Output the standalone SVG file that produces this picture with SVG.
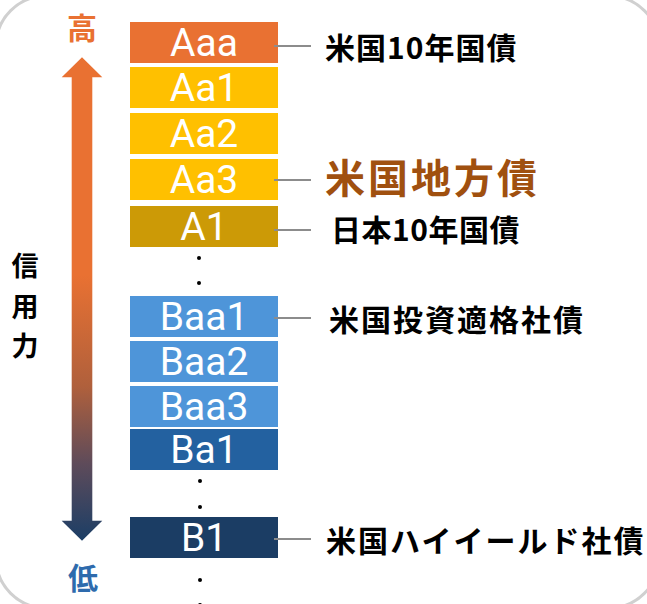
<svg xmlns="http://www.w3.org/2000/svg" width="647" height="604" viewBox="0 0 647 604">
<defs>
<linearGradient id="g" gradientUnits="userSpaceOnUse" x1="0" y1="57" x2="0" y2="541">
<stop offset="0" stop-color="#E97132"/>
<stop offset="0.45" stop-color="#E97132"/>
<stop offset="0.68" stop-color="#B0603C"/>
<stop offset="0.84" stop-color="#5E4B5A"/>
<stop offset="1" stop-color="#1B3E66"/>
</linearGradient>
<style>
.bx text{font-family:Roboto,"Liberation Sans",sans-serif;font-size:39px;fill:#fff;text-anchor:middle}
.lb{font-family:"Noto Sans CJK JP","Noto Sans",sans-serif;font-weight:bold;font-size:30px;fill:#000;letter-spacing:2px}
.cn line{stroke:#8C8C8C;stroke-width:2}
.dot{fill:#000}
</style>
</defs>
<rect x="-4" y="-4" width="663" height="612" rx="50" ry="50" fill="#fff" stroke="#D0D0D0" stroke-width="3"/>

<g id="arrow">
<path d="M71.7,520.7 V77.3 H61.7 L82,57.3 L102.3,77.3 H92.3 V520.7 H102.3 L82,540.7 L61.7,520.7 Z" fill="url(#g)"/>
</g>
<g id="high"><text x="82" y="39" text-anchor="middle" font-family="'Noto Sans CJK JP',sans-serif" font-weight="bold" font-size="30" fill="#E97132">高</text></g>
<g id="low"><text x="83" y="589" text-anchor="middle" font-family="'Noto Sans CJK JP',sans-serif" font-weight="bold" font-size="30" fill="#2E6BAD">低</text></g>
<g id="axis-label" font-family="'Noto Sans CJK JP',sans-serif" font-weight="bold" font-size="27" fill="#000" text-anchor="middle">
<text x="25" y="276">信</text>
<text x="25" y="317">用</text>
<text x="25" y="356">力</text>
</g>

<g id="Aaa" class="bx"><rect x="130" y="22" width="148" height="41" fill="#E97132"/><text x="204" y="56">Aaa</text></g>
<g id="Aa1" class="bx"><rect x="130" y="67" width="148" height="41" fill="#FFC000"/><text x="204" y="101">Aa1</text></g>
<g id="Aa2" class="bx"><rect x="130" y="113" width="148" height="41" fill="#FFC000"/><text x="204" y="147">Aa2</text></g>
<g id="Aa3" class="bx"><rect x="130" y="159" width="148" height="41" fill="#FFC000"/><text x="204" y="193">Aa3</text></g>
<g id="A1" class="bx"><rect x="130" y="206" width="148" height="41" fill="#CC9A06"/><text x="204" y="240">A1</text></g>
<g id="Baa1" class="bx"><rect x="130" y="296" width="148" height="41" fill="#4E95D9"/><text x="204" y="330">Baa1</text></g>
<g id="Baa2" class="bx"><rect x="130" y="341" width="148" height="41" fill="#4E95D9"/><text x="204" y="375">Baa2</text></g>
<g id="Baa3" class="bx"><rect x="130" y="386" width="148" height="41" fill="#4E95D9"/><text x="204" y="420">Baa3</text></g>
<g id="Ba1" class="bx"><rect x="130" y="429" width="148" height="41" fill="#2361A0"/><text x="204" y="463">Ba1</text></g>
<g id="B1" class="bx"><rect x="130" y="517" width="148" height="41" fill="#1B3D64"/><text x="204" y="551">B1</text></g>

<g id="dots">
<circle class="dot" cx="199" cy="258" r="2"/>
<circle class="dot" cx="199" cy="283" r="2"/>
<circle class="dot" cx="200" cy="481" r="2"/>
<circle class="dot" cx="200" cy="507" r="2"/>
<circle class="dot" cx="200" cy="580" r="2"/>
<circle class="dot" cx="200" cy="605" r="2"/>
</g>

<g id="connectors" class="cn">
<line x1="274" y1="46" x2="311" y2="46"/>
<line x1="274" y1="180" x2="311" y2="180"/>
<line x1="274" y1="230" x2="311" y2="230"/>
<line x1="274" y1="318" x2="311" y2="318"/>
<line x1="274" y1="539" x2="311" y2="539"/>
</g>

<g id="label-us10"><text class="lb" x="325" y="59" style="letter-spacing:1px">米国10年国債</text></g>
<g id="label-muni"><text class="lb" x="325" y="193" style="font-size:40px;fill:#A0500F;letter-spacing:3px">米国地方債</text></g>
<g id="label-jp10"><text class="lb" x="331" y="241" style="letter-spacing:0.5px">日本10年国債</text></g>
<g id="label-ig"><text class="lb" x="329" y="331">米国投資適格社債</text></g>
<g id="label-hy"><text class="lb" x="326" y="552">米国ハイイールド社債</text></g>
</svg>
